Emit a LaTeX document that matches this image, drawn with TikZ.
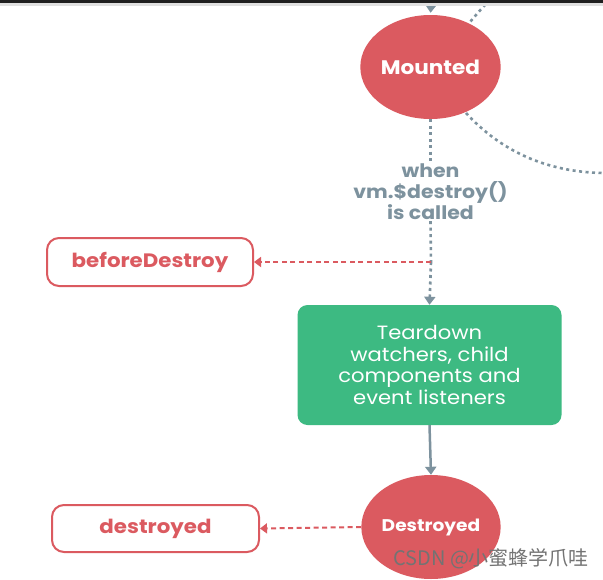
\documentclass[tikz,border=0pt]{standalone}
\usepackage{fontspec}
\setmainfont{Poppins}[FakeStretch=1.1]
\newfontfamily\cjkfont{Noto Sans CJK SC}
\usetikzlibrary{arrows.meta,shapes.geometric}
\definecolor{vred}{HTML}{DB5A60}
\definecolor{vgray}{HTML}{7D929E}
\definecolor{vgreen}{HTML}{3DBA82}
\tikzset{
  hook/.style={ellipse, fill=vred, minimum width=128pt, minimum height=104pt, inner sep=0pt, text=white, font=\bfseries\fontsize{19.6}{22}\selectfont},
  cbox/.style={draw=vred, line width=2pt, rounded corners=12pt, fill=white, text=vred, minimum width=206pt, minimum height=48pt, font=\bfseries\fontsize{19.4}{22}\selectfont},
  greenbox/.style={fill=vgreen, rounded corners=10pt, text=white, minimum width=264pt, minimum height=120pt, align=center, font=\fontsize{19.2}{21.6}\selectfont},
  gdot/.style={vgray, line width=2.6pt, dash pattern=on 3pt off 3.5pt},
  rdash/.style={vred, line width=2pt, dash pattern=on 5pt off 3.5pt},
  gtip/.style={-{Triangle[width=11pt,length=8pt]}},
  rtip/.style={-{Triangle[width=10pt,length=7pt]}},
}
\begin{document}
\begin{tikzpicture}[x=1pt,y=-1pt]
\useasboundingbox (0,0) rectangle (603,579);
\clip (0,0) rectangle (603,579);
\fill[white] (0,0) rectangle (603,579);
% right dashed arcs
\draw[gdot] (466,113) .. controls (500,150) and (545,172) .. (603,173);
\draw[gdot] (490,0) .. controls (482,8) .. (470,22);
% nodes
\node[hook] (mounted) at (430.5,67) {Mounted};
\node[hook, font=\bfseries\fontsize{16.9}{19}\selectfont] (destroyedc) at (431,527) {Destroyed};
\node[cbox] (before) at (150,262) {beforeDestroy};
\node[cbox, minimum width=207pt, minimum height=47pt] (destroyed) at (155.5,528.5) {destroyed};
\node[greenbox] (tear) at (429.5,365) {Teardown\\watchers, child\\components and\\event listeners};
\node[text=vgray, align=center, inner sep=1pt, font=\bfseries\fontsize{18.6}{21}\selectfont] (when) at (430.5,192) {when\\vm.\$destroy()\\is called};
\coordinate (top) at (431,3);
\coordinate (split) at (431,262);
% connectors
\draw[vgray, line width=2.5pt, gtip, shorten >=2pt] (top) -- (mounted.north);
\draw[gdot] (mounted.south) -- (when.north);
\draw[gdot] (when.south) -- (split);
\draw[gdot, gtip] (split) -- (tear.north);
\draw[rdash, rtip] (split) -- (before.east);
\draw[vgray, line width=2.5pt, gtip] (tear.south) -- (destroyedc.north);
\draw[rdash, rtip] (destroyedc.west) -- (destroyed.east);
% top bar
\fill[black!88] (0,0) rectangle (603,3);
\fill[black!12] (0,3) rectangle (603,5.5);
% watermark
\node[anchor=west, text=black!55, font=\cjkfont\fontsize{20}{22}\selectfont, inner sep=0pt] (wm) at (393,559) {CSDN @小蜜蜂学爪哇};
\end{tikzpicture}
\end{document}
